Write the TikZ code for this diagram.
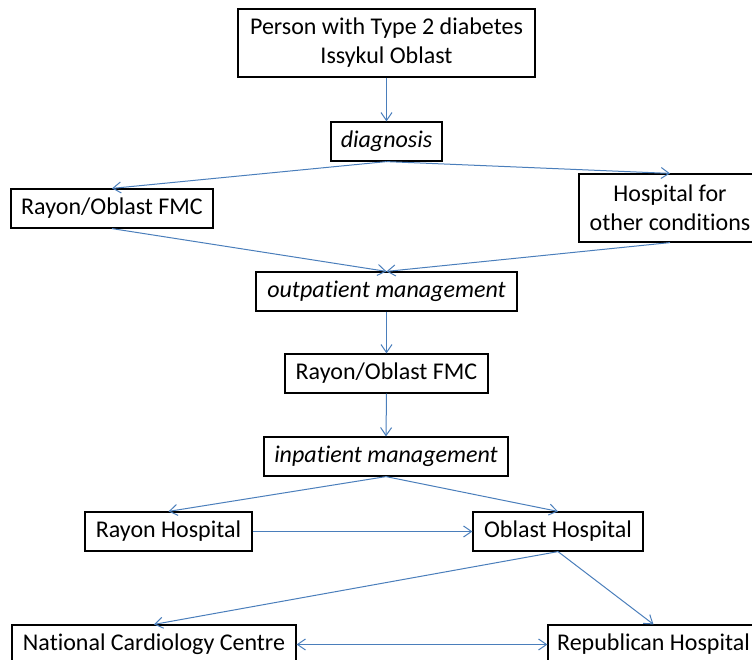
\documentclass[tikz,border=0pt]{standalone}
\usepackage{fontspec}
\setmainfont{Carlito}[Ligatures=CommonOff]
\usetikzlibrary{arrows.meta}
\definecolor{flow}{RGB}{74,126,187}
\newcommand{\nolig}{\kern0pt }
\begin{document}
\begin{tikzpicture}[x=1pt,y=-1pt,
  box/.style={draw=black,line width=1.2pt,inner sep=0pt,align=center,font=\fontsize{24}{29}\selectfont},
  flowline/.style={draw=flow,line width=1pt,-{Straight Barb[length=8pt,width=11pt]}},
  flowboth/.style={draw=flow,line width=1pt,{Straight Barb[length=8pt,width=11pt]}-{Straight Barb[length=8pt,width=11pt]}}]
\useasboundingbox (0,0) rectangle (752,660);
\clip (0,0) rectangle (752,660);
\node[box,minimum width=297pt,minimum height=68pt] (top) at (386.5,43) {Person with Type 2 diabetes\\Issykul Oblast};
\node[box,minimum width=111pt,minimum height=39pt] (diag) at (386.5,141.5) {\itshape diagnosis};
\node[box,minimum width=202pt,minimum height=39pt] (fmc1) at (112,208.5) {Rayon/Oblast FMC};
\node[box,minimum width=182pt,minimum height=68pt] (hosp) at (670,208) {Hospital for\\other condit\nolig ions};
\node[box,minimum width=261pt,minimum height=39pt] (outp) at (386.5,291.5) {\itshape outpat\nolig ient management};
\node[box,minimum width=203pt,minimum height=39pt] (fmc2) at (386.5,373.5) {Rayon/Oblast FMC};
\node[box,minimum width=244pt,minimum height=39pt] (inp) at (386,456.5) {\itshape inpat\nolig ient management};
\node[box,minimum width=167pt,minimum height=39pt] (rh) at (168.5,531.5) {Rayon Hospital};
\node[box,minimum width=170pt,minimum height=39pt] (oh) at (558,531.5) {Oblast Hospital};
\node[box,minimum width=284pt,minimum height=39pt] (ncc) at (154,644.5) {National Cardiology Centre};
\node[box,minimum width=211pt,minimum height=39pt] (rep) at (653.5,644.5) {Republican Hospital};
\draw[flowline] (top.south) -- (diag.north);
\draw[flowline] (diag.south) -- (fmc1.north);
\draw[flowline] (diag.south) -- (hosp.north);
\draw[flowline] (fmc1.south) -- (outp.north);
\draw[flowline] (hosp.south) -- (outp.north);
\draw[flowline] (outp.south) -- (fmc2.north);
\draw[flowline] (fmc2.south) -- (inp.north);
\draw[flowline] (inp.south) -- (rh.north);
\draw[flowline] (inp.south) -- (oh.north);
\draw[flowline] (rh.east) -- (oh.west);
\draw[flowline] (oh.south) -- (ncc.north);
\draw[flowline] (oh.south) -- (rep.north);
\draw[flowboth] (ncc.east) -- (rep.west);
\end{tikzpicture}
\end{document}
